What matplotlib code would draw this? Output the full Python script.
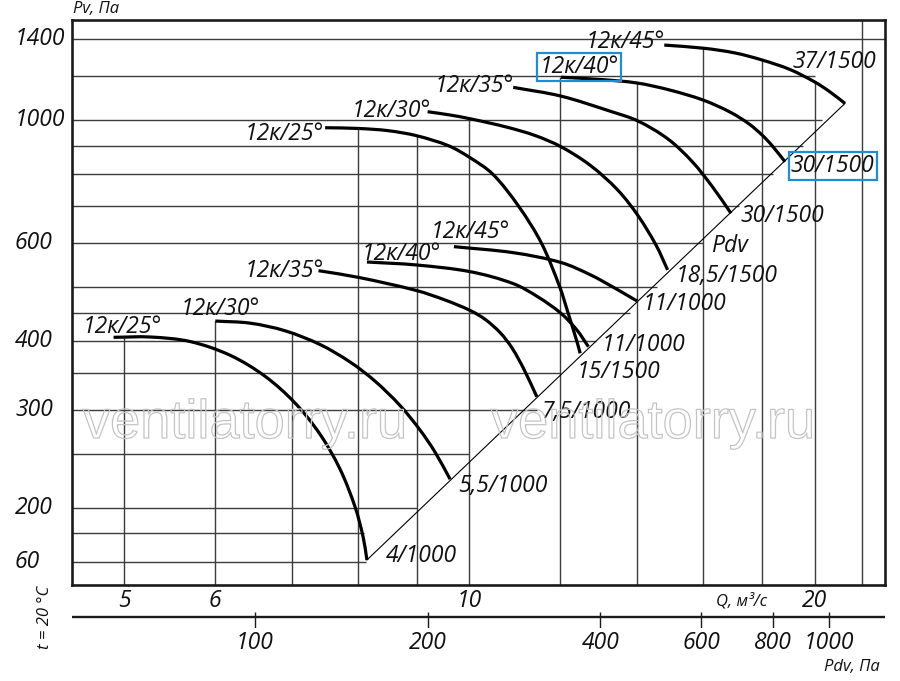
import numpy as np
import matplotlib
matplotlib.use('Agg')
import matplotlib.pyplot as plt
import matplotlib.patheffects as pe
from matplotlib.path import Path
from matplotlib.patches import PathPatch
from matplotlib.transforms import blended_transform_factory, offset_copy
from matplotlib.ticker import NullLocator

# ---------------- data ----------------
pv_tick_vals = [1400, 1000, 600, 400, 300, 200, 160]
pv_tick_labels = ['1400', '1000', '600', '400', '300', '200', '60']
q_tick_vals = [5, 6, 10, 20]
q_tick_labels = ['5', '6', '10', '20']
pdv_tick_vals = [100, 200, 400, 600, 800, 1000]
pdv_tick_labels = ['100', '200', '400', '600', '800', '1000']

h_grid_pv = [160, 180, 200, 250, 300, 350, 400, 450, 500, 600, 700, 800, 900, 1000, 1200, 1400]
h_grid_qend = [8.13, 8.1, 9.0, 10.0, 11.45, 12.0, 12.9, 13.8, 14.58, 16.0, 17.2, 18.4, 19.55, 20.3, 20.0, 23.04]
v_grid_q = [5, 6, 7, 8, 9, 10, 12, 14, 16, 18, 20, 22]
v_grid_pvtop = [406.5, 434.7, 414, 967, 938, 1007, 1196, 1168, 1349, 1284, 1172, 1517]

# 1000 rpm curves
q_25_1000 = [4.894, 5.272, 5.708, 6.185, 6.637, 7.049, 7.411, 7.714, 7.950, 8.079, 8.140]
pv_25_1000 = [406.3, 406.8, 399.2, 377.1, 345.4, 309.0, 271.4, 234.8, 200.7, 177.2, 161.2]
q_30_1000 = [6.003, 6.438, 6.908, 7.411, 7.871, 8.275, 8.700, 9.056, 9.335, 9.620]
pv_30_1000 = [434.7, 430.9, 417.4, 394.2, 366.6, 338.6, 306.1, 276.5, 252.1, 225.4]
q_35_1000 = [7.386, 8.014, 8.989, 9.525, 10.02, 10.32, 10.64, 10.90, 11.16, 11.45]
pv_35_1000 = [535.8, 520.8, 493.5, 474.3, 454.0, 437.8, 414.0, 388.0, 355.5, 317.5]
q_40_1000 = [8.140, 8.993, 10.02, 10.92, 11.48, 12.02, 12.41, 12.70]
pv_40_1000 = [555.5, 548.6, 533.5, 507.8, 480.3, 448.8, 418.8, 390.8]
q_45_1000 = [9.694, 10.92, 12.02, 12.76, 13.41, 14.00]
pv_45_1000 = [592.0, 577.4, 554.3, 526.3, 497.6, 472.5]

# 1500 rpm curves
q_25_1500 = [7.485, 8.0, 8.5, 9.0, 9.59, 10.0, 10.48, 11.04, 11.56, 11.993, 12.19, 12.407, 12.492]
pv_25_1500 = [970, 967, 958, 938, 900, 858, 800, 700, 600, 500, 450, 400, 380.2]
q_30_1500 = [9.195, 9.620, 10.02, 10.77, 11.41, 12.02, 12.75, 13.47, 14.03, 14.55, 14.89]
pv_30_1500 = [1036.6, 1022.5, 1006.5, 972.8, 939.1, 896.3, 829.4, 748.9, 673.4, 595.4, 537.4]
q_35_1500 = [10.92, 12.02, 13.31, 14.03, 14.90, 15.64, 16.31, 16.91]
pv_35_1500 = [1147, 1106, 1036.6, 997.3, 925.6, 843, 756.7, 679.9]
q_40_1500 = [12.02, 13.0, 14.0, 14.96, 15.99, 16.88, 17.53, 18.00, 18.36, 18.85]
pv_40_1500 = [1196, 1185, 1168, 1134, 1088, 1035, 985.8, 941.0, 901.1, 842]
q_45_1500 = [14.79, 16.02, 17.05, 18.02, 19.04, 20.02, 20.63, 21.26]
pv_45_1500 = [1367, 1349, 1323, 1284, 1235, 1172, 1125.5, 1073]

# dynamic pressure line
pdv_line_q = [8.14, 21.26]
pdv_line_pv = [161.2, 1073]

start_labels = ['12к/25°', '12к/30°', '12к/35°', '12к/40°', '12к/45°',
                '12к/25°', '12к/30°', '12к/35°', '12к/40°', '12к/45°']
end_labels = ['4/1000', '5,5/1000', '7,5/1000', '11/1000', '11/1000',
              '15/1500', '18,5/1500', '30/1500', '30/1500', '37/1500']

# ---------------- layout ----------------
W, H = 900, 681
fig = plt.figure(figsize=(9, 6.81), dpi=100)
FONT = ['Open Sans', 'DejaVu Sans']
plt.rcParams['font.family'] = FONT
NUM = 16.5
INK = '#111111'


def fx(px):
    return px / W


def fy(py):
    return 1 - py / H


ax = fig.add_axes([fx(72), fy(585), fx(885) - fx(72), fy(20) - fy(585)])
ax.set_xscale('log')
ax.set_yscale('log')
ax.set_xlim(4.502, 23.04)
ax.set_ylim(145.3, 1517)
ax.set_autoscale_on(False)
for a in (ax.xaxis, ax.yaxis):
    a.set_major_locator(NullLocator())
    a.set_minor_locator(NullLocator())
for s in ax.spines.values():
    s.set_linewidth(1.9)
    s.set_color('#1a1a1a')


def smooth_path(q, pv):
    """Smooth curve through the read points (chord-length Catmull-Rom, display space)."""
    P = ax.transData.transform(np.column_stack([q, pv]))
    n = len(P)
    d = np.linalg.norm(np.diff(P, axis=0), axis=1)
    m = np.zeros_like(P)
    for i in range(n):
        if i == 0:
            m[i] = (P[1] - P[0]) / d[0]
        elif i == n - 1:
            m[i] = (P[-1] - P[-2]) / d[-1]
        else:
            m[i] = (P[i + 1] - P[i - 1]) / (d[i - 1] + d[i])
    verts = [P[0]]
    codes = [Path.MOVETO]
    for i in range(n - 1):
        verts += [P[i] + m[i] * d[i] / 3, P[i + 1] - m[i + 1] * d[i] / 3, P[i + 1]]
        codes += [Path.CURVE4] * 3
    return Path(ax.transData.inverted().transform(np.array(verts)), codes)


grid_kw = dict(color='#3c3c3c', lw=1.0, zorder=1)
ax.hlines(h_grid_pv, 4.502, h_grid_qend, **grid_kw)
ax.vlines(v_grid_q, 145.3, v_grid_pvtop, **grid_kw)

# watermark
for cx in (245, 653):
    fig.text(fx(cx), fy(438), 'ventilatorry.ru', fontsize=39, family='Liberation Sans',
             ha='center', va='baseline', color='none', zorder=2,
             path_effects=[pe.Stroke(linewidth=0.9, foreground='#c4c4c4')])

ax.plot(pdv_line_q, pdv_line_pv, color='black', lw=0.8, zorder=3)

curves = [(q_25_1000, pv_25_1000), (q_30_1000, pv_30_1000), (q_35_1000, pv_35_1000),
          (q_40_1000, pv_40_1000), (q_45_1000, pv_45_1000),
          (q_25_1500, pv_25_1500), (q_30_1500, pv_30_1500), (q_35_1500, pv_35_1500),
          (q_40_1500, pv_40_1500), (q_45_1500, pv_45_1500)]
for q, pv in curves:
    ax.add_patch(PathPatch(smooth_path(q, pv), fill=False, ec='black', lw=2.3,
                           capstyle='butt', joinstyle='round', zorder=4))

txt = dict(fontsize=NUM, style='italic', color=INK, zorder=5)
BLUE = '#1b8fd6'

# label anchors (Q, Pv) of baseline centre
start_pos = [(4.980, 413.6), (6.064, 445.7), (6.894, 521.9), (8.718, 560.1), (10.01, 613.7),
             (6.894, 921.8), (8.544, 1014.0), (10.10, 1125), (12.47, 1217), (13.67, 1351)]
end_pos = [(9.074, 159.8), (10.70, 213.7), (12.62, 290.6), (14.20, 383.8), (15.42, 455.0),
           (13.48, 343.1), (16.77, 511.0), (18.74, 655.8), (20.75, 807.2), (20.80, 1243)]
boxed_start = 8
boxed_end = 8
for i, (lab, (q, p)) in enumerate(zip(start_labels, start_pos)):
    kw = dict(txt)
    if i == boxed_start:
        kw['bbox'] = dict(boxstyle='square,pad=0.1', fc='none', ec=BLUE, lw=1.6)
    ax.text(q, p, lab, ha='center', va='baseline', **kw)
for i, (lab, (q, p)) in enumerate(zip(end_labels, end_pos)):
    kw = dict(txt)
    if i == boxed_end:
        kw['bbox'] = dict(boxstyle='square,pad=0.1', fc='none', ec=BLUE, lw=1.6)
    ax.text(q, p, lab, ha='center', va='baseline', **kw)
ax.text(16.84, 579.1, 'Pdv', ha='center', va='baseline', **txt)

# y tick labels (left aligned at fixed x)
ytrans = offset_copy(blended_transform_factory(fig.transFigure, ax.transData), fig=fig, y=-6, units='dots')
for v, lab in zip(pv_tick_vals, pv_tick_labels):
    fig.text(fx(15), v, lab, transform=ytrans, ha='left', va='baseline', fontsize=NUM, style='italic', color=INK)

# Q tick labels
xtrans = blended_transform_factory(ax.transData, fig.transFigure)
for v, lab in zip(q_tick_vals, q_tick_labels):
    ax.text(v, fy(607), lab, transform=xtrans, ha='center', va='baseline', fontsize=NUM,
            style='italic', color=INK, clip_on=False)
fig.text(fx(742), fy(605), 'Q, м³/с', ha='center', va='baseline', fontsize=12, style='italic', color=INK)

# Pdv secondary scale
ax2 = fig.add_axes([fx(72), fy(628), fx(885) - fx(72), fy(612) - fy(628)])
ax2.set_xscale('log')
ax2.set_xlim(47.96, 1254.5)
ax2.set_ylim(0, 1)
ax2.axis('off')
ax2.axhline((628 - 617) / 16, color='#1a1a1a', lw=1.7)
ax2.vlines(pdv_tick_vals, 0, 1, color='#1a1a1a', lw=1.0)
ptrans = blended_transform_factory(ax2.transData, fig.transFigure)
for v, lab in zip(pdv_tick_vals, pdv_tick_labels):
    ax2.text(v, fy(649), lab, transform=ptrans, ha='center', va='baseline', fontsize=NUM,
             style='italic', color=INK, clip_on=False)
fig.text(fx(880), fy(671), 'Pdv, Па', ha='right', va='baseline', fontsize=12, style='italic', color=INK)

fig.text(fx(73), fy(13), 'Pv, Па', ha='left', va='baseline', fontsize=12, style='italic', color=INK)
fig.text(fx(45), fy(617), 't = 20 °C', ha='center', va='center', rotation=90, fontsize=12, style='italic', color=INK)

fig.savefig('out.png', dpi=100)
